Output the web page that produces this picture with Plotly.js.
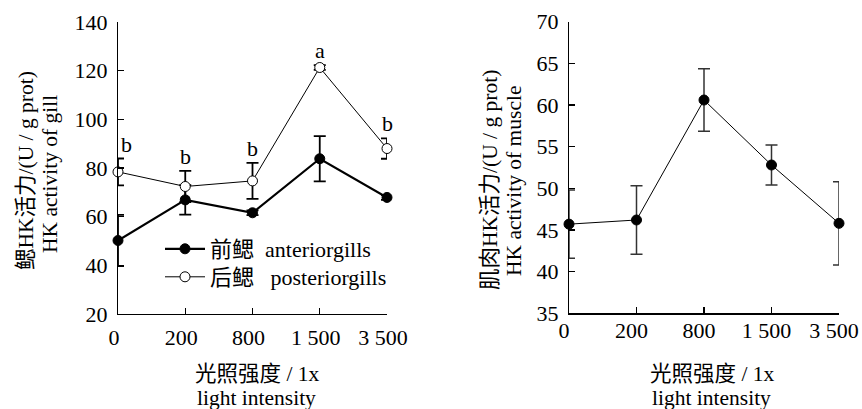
<!DOCTYPE html>
<html><head><meta charset="utf-8">
<script src="https://cdn.plot.ly/plotly-3.0.1.min.js"></script>
<style>html,body{margin:0;padding:0;background:#fff}</style>
</head><body><div id="chart" style="width:862px;height:409px"></div>
<script>
const categories = ['0', '200', '800', '1 500', '3 500'];
const gillAnterior = [50.2, 66.9, 61.6, 83.8, 67.9];
const gillAnteriorErr = [10.5, 6.1, 1.0, 9.3, 1.0];
const gillPosterior = [78.4, 72.4, 74.7, 121.3, 88.0];
const gillPosteriorErr = [5.5, 6.4, 7.4, 1.0, 4.2];
const gillLetters = ['b', 'b', 'b', 'a', 'b'];
const muscle = [45.7, 46.2, 60.6, 52.8, 45.8];
const muscleErr = [4.1, 4.1, 3.75, 2.4, 5.0];
const gillTitleLines = ['鳃HK活力/(U / g prot)', 'HK activity of gill'];
const muscleTitleLines = ['肌肉HK活力/(U / g prot)', 'HK activity of muscle'];
const xTitleLines = ['光照强度 / 1x', 'light intensity'];

const FONT = "Liberation Serif, Noto Sans CJK SC, serif";
const W = 862, H = 409;
const px = v => v / W;
const py = v => 1 - v / H;

const traces = [
  {
    x: categories, y: gillAnterior, xaxis: 'x', yaxis: 'y', legend: 'legend',
    type: 'scatter', mode: 'lines+markers', cliponaxis: false,
    name: '前鳃\u00a0\u00a0anteriorgills',
    line: {color: '#000', width: 2.2},
    marker: {color: '#000', size: 10, line: {color: '#000', width: 1}},
    error_y: {type: 'data', array: gillAnteriorErr, visible: true, color: '#000', thickness: 1.8, width: 6}
  },
  {
    x: categories, y: gillPosterior, xaxis: 'x', yaxis: 'y', legend: 'legend2',
    type: 'scatter', mode: 'lines+markers', cliponaxis: false,
    name: '后鳃\u00a0\u00a0\u00a0posteriorgills',
    line: {color: '#000', width: 1},
    marker: {color: '#fff', size: 10, line: {color: '#000', width: 1}},
    error_y: {type: 'data', array: gillPosteriorErr, visible: true, color: '#000', thickness: 1.8, width: 6}
  },
  {
    x: categories, y: muscle, xaxis: 'x2', yaxis: 'y2',
    type: 'scatter', mode: 'lines+markers', cliponaxis: false, showlegend: false,
    line: {color: '#000', width: 1},
    marker: {color: '#000', size: 10, line: {color: '#000', width: 1}},
    error_y: {type: 'data', array: muscleErr, visible: true, color: '#333', thickness: 1.5, width: 6}
  }
];

const axisCommon = {
  showline: true, linecolor: '#000', linewidth: 1.2, mirror: false,
  ticks: 'inside', ticklen: 6, tickwidth: 1.2, tickcolor: '#000',
  showgrid: false, zeroline: false,
  tickfont: {family: FONT, size: 22, color: '#000'}
};

const annotations = [];
gillLetters.forEach((t, i) => {
  annotations.push({
    x: i, y: gillPosterior[i] + gillPosteriorErr[i], xref: 'x', yref: 'y',
    text: t, showarrow: false, yanchor: 'bottom', yshift: 0, xshift: i === 0 ? 8 : 0,
    font: {family: FONT, size: 22, color: '#000'}
  });
});
const titleFont = {family: FONT, size: 21.5, color: '#000'};
function addLine(text, x, y, rot) {
  annotations.push({xref: 'paper', yref: 'paper', x: px(x), y: py(y), text: text,
    textangle: rot ? -90 : 0, showarrow: false, xanchor: 'center', yanchor: 'middle', font: titleFont});
}
addLine(gillTitleLines[0], 26, 171, true);
addLine(gillTitleLines[1], 50, 174, true);
addLine(muscleTitleLines[0], 490, 180, true);
addLine(muscleTitleLines[1], 514, 181, true);
addLine(xTitleLines[0], 256.5, 373.5, false);
addLine(xTitleLines[1], 256.5, 398, false);
addLine(xTitleLines[0], 711.5, 373.5, false);
addLine(xTitleLines[1], 711.5, 398, false);

const legendCommon = {
  xanchor: 'left', yanchor: 'top', bgcolor: 'rgba(0,0,0,0)', borderwidth: 0,
  itemwidth: 40, font: {family: FONT, size: 22, color: '#000'}
};

const layout = {
  width: W, height: H,
  margin: {l: 0, r: 0, t: 0, b: 0},
  paper_bgcolor: '#fff', plot_bgcolor: 'rgba(0,0,0,0)',
  font: {family: FONT, color: '#000'},
  showlegend: true,
  legend: Object.assign({}, legendCommon, {x: px(160), y: py(228)}),
  legend2: Object.assign({}, legendCommon, {x: px(160), y: py(256)}),
  xaxis: Object.assign({}, axisCommon, {
    domain: [px(118), px(387)], anchor: 'y', type: 'category', range: [0, 4],
    categoryorder: 'array', categoryarray: categories, ticklabelshift: -4, ticklabelstandoff: 3
  }),
  yaxis: Object.assign({}, axisCommon, {
    domain: [py(314), py(22)], anchor: 'x', range: [20, 140], dtick: 20, tick0: 20,
    ticklabelstandoff: 5
  }),
  xaxis2: Object.assign({}, axisCommon, {
    domain: [px(569), px(839)], anchor: 'y2', type: 'category', range: [0, 4],
    categoryorder: 'array', categoryarray: categories, ticklabelshift: -5, ticklabelstandoff: -3
  }),
  yaxis2: Object.assign({}, axisCommon, {
    domain: [py(313.3), py(21.7)], anchor: 'x2', range: [35, 70], dtick: 5, tick0: 35,
    ticklabelstandoff: 5
  }),
  annotations: annotations
};

Plotly.newPlot('chart', traces, layout, {displayModeBar: false, staticPlot: true});
</script>
</body></html>
